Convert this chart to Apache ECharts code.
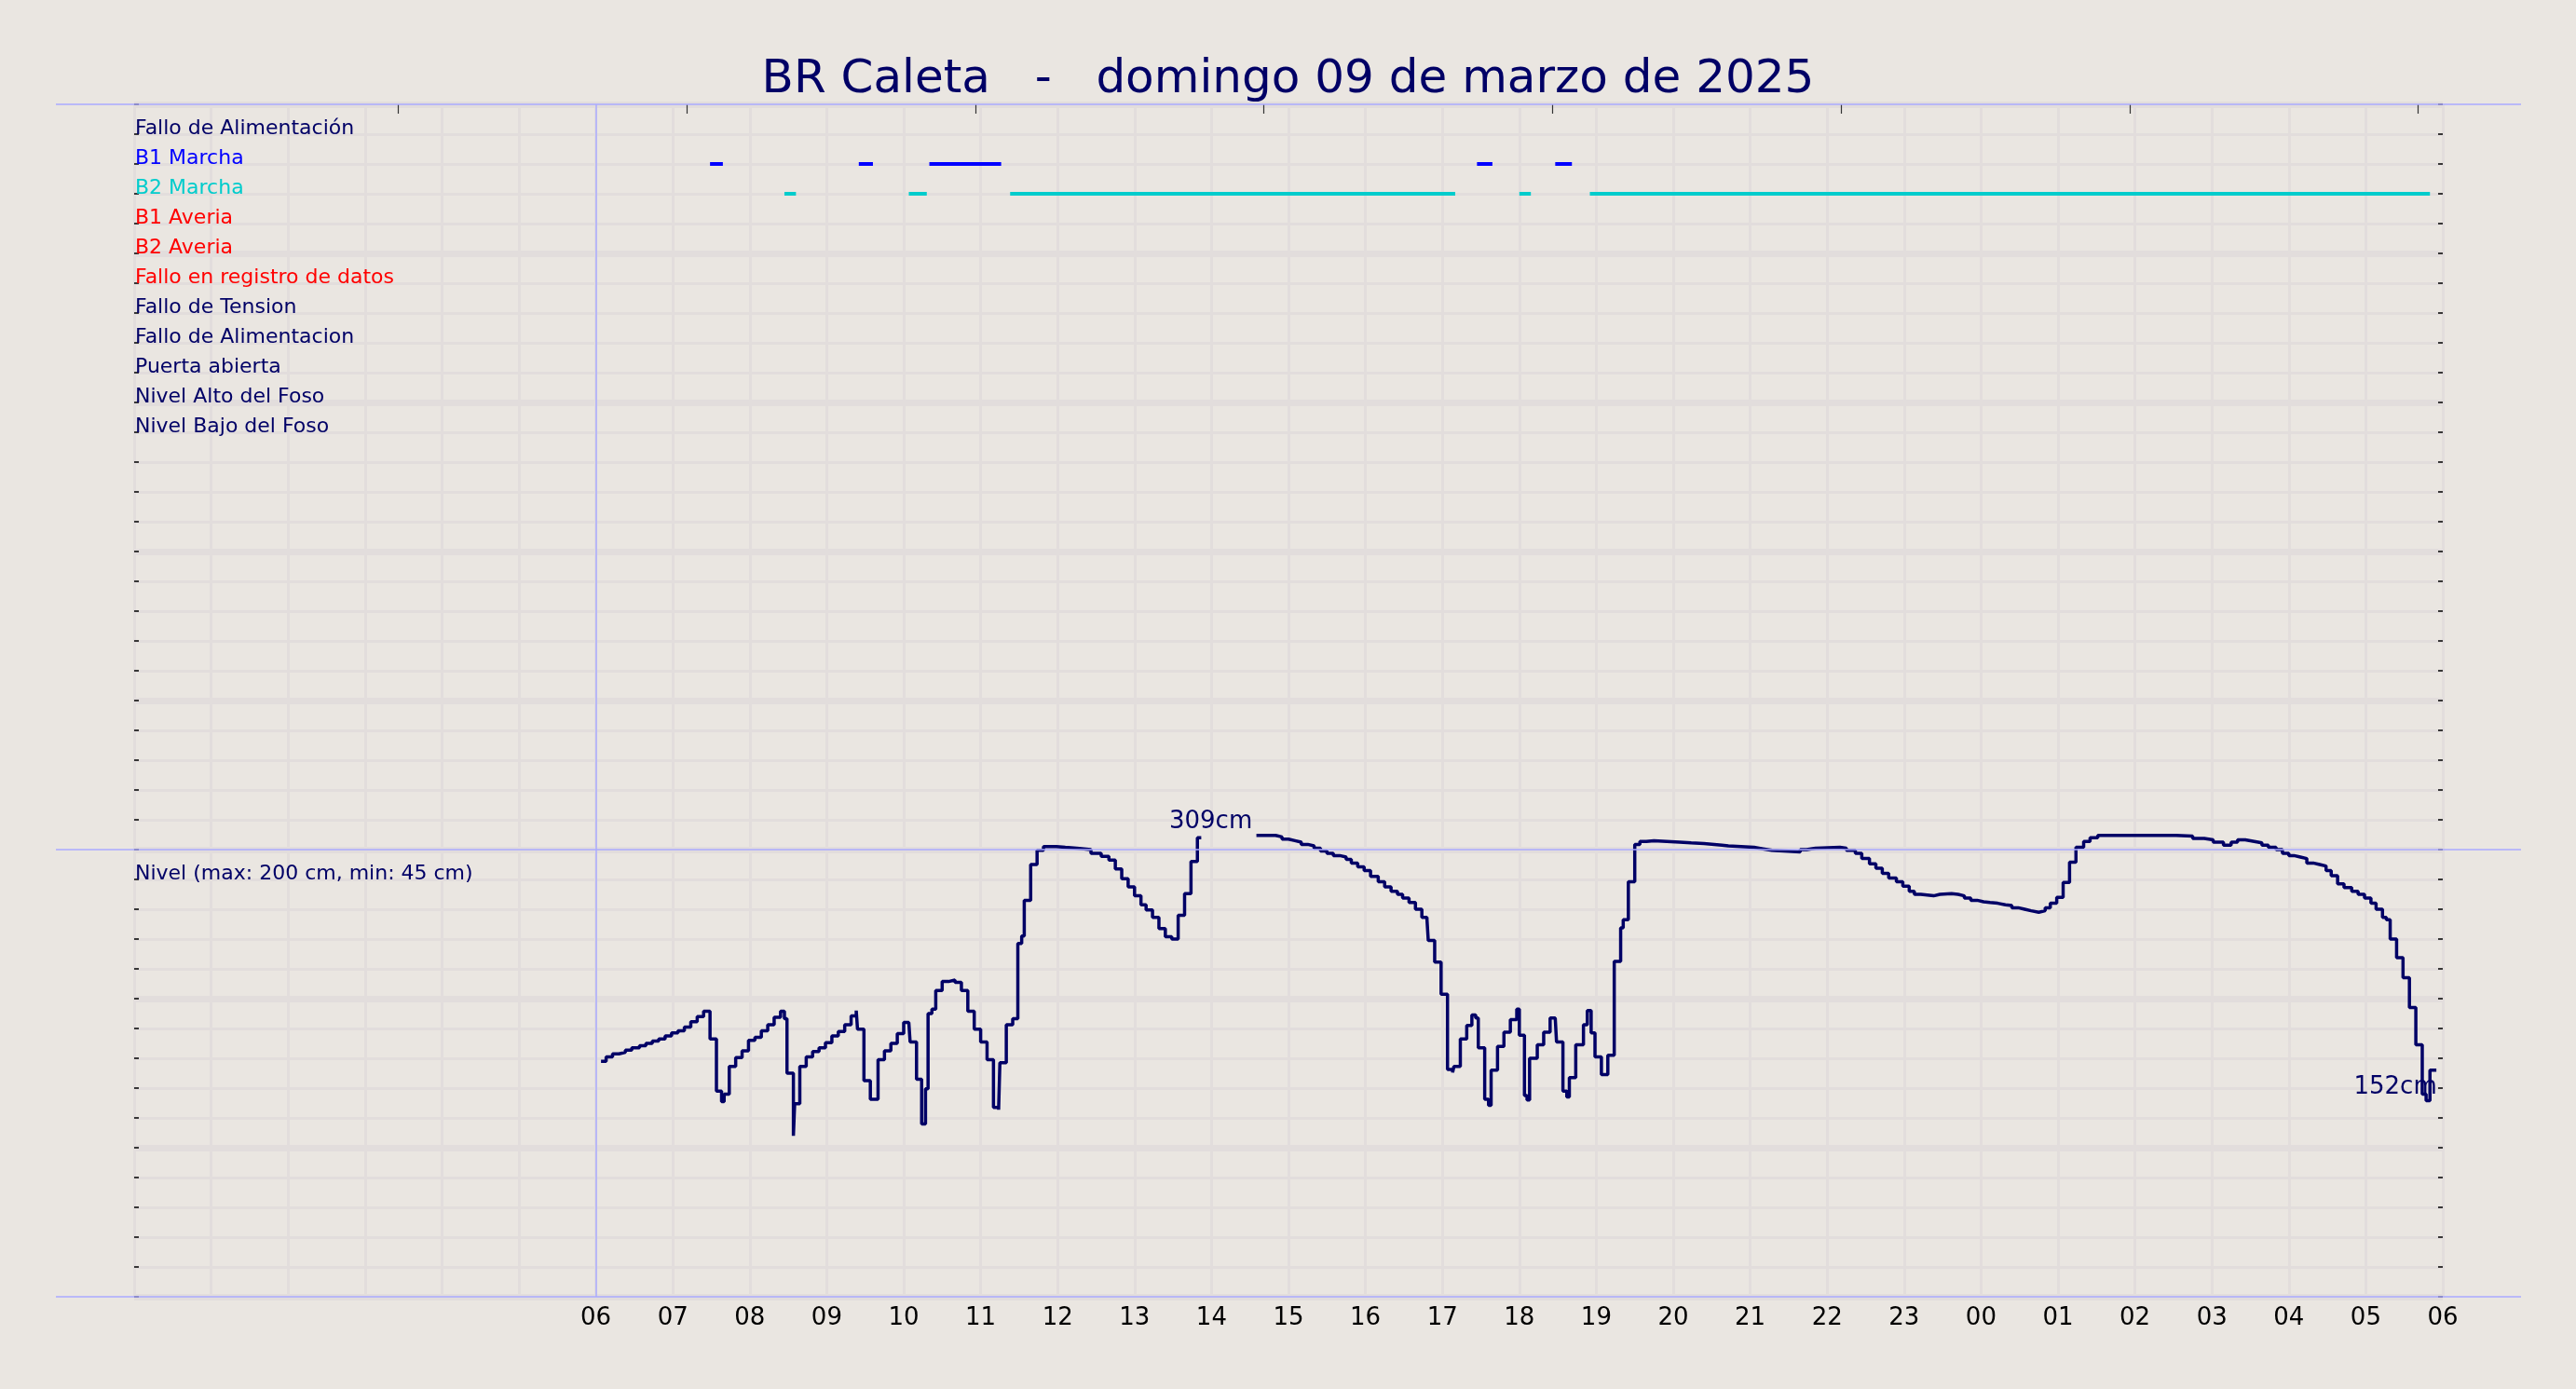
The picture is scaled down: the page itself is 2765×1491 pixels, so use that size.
<!DOCTYPE html>
<html>
<head>
<meta charset="utf-8">
<script src="https://cdn.jsdelivr.net/npm/echarts@6/dist/echarts.min.js"></script>
<style>
html,body{margin:0;padding:0;background:#EAE6E1;}
#chart{width:2765px;height:1491px;}
</style>
</head>
<body>
<div id="chart"></div>
<script>
// ---------------- DATA ----------------
const titleText = 'BR Caleta   -   domingo 09 de marzo de 2025';

// bottom axis tick labels (hours 06 .. 06 next day)
const xTickLabels = ['06','07','08','09','10','11','12','13','14','15','16','17','18','19','20','21','22','23','00','01','02','03','04','05','06'];

// small ticks on the top edge (hours)
const topTickHours = [3.43, 7.18, 10.93, 14.68, 18.43, 22.18, 25.93, 29.68];

// status rows
const statusNames = ['Fallo de Alimentación','B1 Marcha','B2 Marcha','B1 Averia','B2 Averia','Fallo en registro de datos','Fallo de Tension','Fallo de Alimentacion','Puerta abierta','Nivel Alto del Foso','Nivel Bajo del Foso'];
const statusColors = ['#000066','#0000FF','#00CCCC','#FF0000','#FF0000','#FF0000','#000066','#000066','#000066','#000066','#000066'];

const levelTitle = 'Nivel (max: 200 cm, min: 45 cm)';

// run periods
const b1Runs = [['07:29','07:39'],['09:25','09:36'],['10:20','11:16'],['17:27','17:39'],['18:28','18:41']];
const b2Runs = [['08:27','08:36'],['10:04','10:18'],['11:23','17:10'],['18:00','18:09'],['18:55','05:50']];

// level (cm), step line
const levelTime = ['06:04','06:08','06:13','06:18','06:23','06:28','06:34','06:39','06:44','06:49','06:54','06:59','07:04','07:09','07:14','07:19','07:24','07:29','07:34','07:38','07:40','07:44','07:49','07:54','07:59','08:04','08:09','08:14','08:19','08:24','08:27','08:29','08:34','08:35','08:39','08:44','08:49','08:54','08:59','09:04','09:09','09:14','09:19','09:23','09:24','09:29','09:34','09:40','09:45','09:50','09:55','10:00','10:04','10:05','10:10','10:14','10:17','10:19','10:22','10:25','10:30','10:35','10:40','10:45','10:50','10:55','11:00','11:05','11:10','11:14','11:15','11:20','11:25','11:29','11:32','11:34','11:39','11:44','11:49','11:59','12:06','12:15','12:26','12:34','12:40','12:45','12:50','12:55','13:00','13:05','13:09','13:14','13:19','13:24','13:29','13:34','13:39','13:44','13:49','13:52','14:35','14:50','14:55','15:00','15:05','15:10','15:15','15:20','15:25','15:30','15:35','15:40','15:45','15:49','15:54','15:59','16:04','16:10','16:15','16:20','16:25','16:29','16:34','16:39','16:44','16:48','16:49','16:54','16:59','17:04','17:08','17:09','17:14','17:19','17:23','17:26','17:28','17:33','17:36','17:38','17:43','17:48','17:53','17:58','18:00','18:04','18:06','18:08','18:14','18:19','18:24','18:28','18:29','18:34','18:37','18:39','18:44','18:50','18:53','18:56','18:59','19:04','19:09','19:14','19:19','19:21','19:25','19:30','19:34','19:39','19:45','19:55','20:05','20:14','20:24','20:38','20:43','21:03','21:10','21:17','21:39','21:44','21:51','22:10','22:15','22:22','22:27','22:33','22:38','22:43','22:48','22:54','22:59','23:04','23:08','23:13','23:23','23:28','23:37','23:42','23:47','23:52','23:57','00:02','00:07','00:13','00:19','00:24','00:29','00:34','00:39','00:45','00:50','00:54','00:59','01:04','01:09','01:14','01:20','01:25','01:31','02:32','02:45','02:54','03:01','03:09','03:15','03:20','03:26','03:33','03:39','03:44','03:50','03:55','04:00','04:04','04:09','04:14','04:19','04:24','04:29','04:33','04:38','04:43','04:49','04:54','04:59','05:04','05:08','05:13','05:16','05:19','05:24','05:29','05:34','05:39','05:44','05:47','05:50','05:55'];
const levelCm = [158,161,163,164,165.5,167,168.5,170,171.5,173,175,177,178.5,181,184.5,188,191.5,173,138,131,136,154.5,160.5,165,172,174,178.5,182.5,187.5,191.5,186.5,150,108,129.5,154.5,161,164.5,167,170.5,175,178,182.5,188.5,192,179.5,145,132.5,159,165,170,176.5,184,185,171,146,116,139.5,190,193,205.5,211.5,212.5,211,205.5,191.5,179.5,171,159,127,125.5,157,182.5,186.5,237,242,266,290,299.5,302,301.5,301,300,297.5,295.5,293,287,280.5,275,269,263,259.5,254.5,247,241.5,240,256,270.5,292,308,null,309.5,308.5,307,306,305,303.5,302.5,301,299,297.5,296,295,293.5,291,288.5,286,282,278.5,275,272,270,267.5,264.5,260,254.5,253,239,224.5,203,152.5,150.5,154.5,173,182,189,187,167,132.5,128.5,152,168,177.5,186,193,175.5,135,132,160,169,177.5,187,186,171,138,134,147,169,182.5,192,177,161,149,162,225,247.5,253,278.5,303.5,305.5,306,305.5,305,304.5,304,303,302.5,301.5,300.5,299.5,298.5,300,301,301.5,301,299.5,297.5,294,290.5,287.5,284,281,278.5,275.5,272,270,269,270,270.5,270,269,267.5,266,265,264.5,264,263,262.5,261,260,259,258,259,261,264,268,278,291.5,301.5,305.5,308,309.5,309,307.5,306.5,305,303,305,306.5,305.5,304.5,303,301.5,300,297.5,296,295,294,291,290,289,286,282.5,277,274.5,272,270,267.5,264,260,254.5,253,240,227.5,214,194,169,136,131.5,152,152];

// ---------------- HELPERS ----------------
function toHour(t){
  const p = t.split(':');
  let h = (+p[0]) + (+p[1]) / 60;
  if (h < 6) h += 24;
  return h;
}
const ROW_TOP = 780, ROW_STEP = 20;
const rowValue = i => ROW_TOP - ROW_STEP * i;

function runsToData(runs, row){
  const d = [];
  runs.forEach(r => {
    d.push([toHour(r[0]), row]);
    d.push([toHour(r[1]), row]);
    d.push([toHour(r[1]), null]);
  });
  return d;
}

const levelData = levelTime.map((t, i) => [toHour(t), levelCm[i]]);
let maxIdx = 0;
levelCm.forEach((v, i) => { if (v !== null && v > levelCm[maxIdx]) maxIdx = i; });
const lastIdx = levelCm.length - 1;

const labelData = statusNames.map((n, i) => ({
  value: [0, rowValue(i)], name: n, label: {color: statusColors[i]}
}));
labelData.push({value: [0, 280], name: levelTitle, label: {color: '#000066'}});

const GRID_COLOR = '#E2DDDC';
const FONT = 'DejaVu Sans';

// ---------------- CHART ----------------
const chart = echarts.init(document.getElementById('chart'), null, {renderer: 'canvas'});
chart.setOption({
  animation: false,
  backgroundColor: '#EAE6E1',
  textStyle: {fontFamily: FONT},
  title: {
    text: titleText,
    left: 'center',
    top: 56,
    textStyle: {fontSize: 50, fontWeight: 'normal', color: '#000066', fontFamily: FONT, lineHeight: 50}
  },
  grid: [
    {left: 144, right: 143, top: 112, bottom: 99},
    {left: 60, right: 59, top: 112, bottom: 99}
  ],
  xAxis: [
    {
      gridIndex: 0, type: 'value', position: 'bottom', min: 0, max: 30, interval: 1,
      axisLine: {show: false, onZero: false}, axisTick: {show: false},
      axisLabel: {
        show: true, fontSize: 26, color: '#000', margin: 10, fontFamily: FONT, lineHeight: 26,
        formatter: v => (v >= 6 ? xTickLabels[v - 6] : '')
      },
      splitLine: {show: true, lineStyle: {color: GRID_COLOR, width: 3}}
    },
    {
      gridIndex: 0, type: 'value', position: 'top', min: 0, max: 30,
      axisLine: {show: false, onZero: false}, axisLabel: {show: false}, splitLine: {show: false},
      axisTick: {show: true, inside: true, length: 10, customValues: topTickHours, lineStyle: {color: '#333', width: 1.2}}
    },
    {gridIndex: 1, type: 'value', min: 0, max: 1, show: false}
  ],
  yAxis: [
    {
      gridIndex: 0, type: 'value', position: 'left', min: 0, max: 800, interval: 20,
      axisLine: {show: false, onZero: false}, axisLabel: {show: false},
      axisTick: {show: true, inside: true, length: 5, lineStyle: {color: '#000', width: 1.5}},
      splitLine: {show: true, lineStyle: {color: GRID_COLOR, width: 3}}
    },
    {
      gridIndex: 0, type: 'value', position: 'right', min: 0, max: 800, interval: 20,
      axisLine: {show: false, onZero: false}, axisLabel: {show: false},
      axisTick: {show: true, inside: true, length: 5, lineStyle: {color: '#000', width: 1.5}},
      splitLine: {show: false}
    },
    {
      gridIndex: 0, type: 'value', position: 'left', min: 0, max: 800, interval: 100,
      axisLine: {show: false, onZero: false}, axisLabel: {show: false}, axisTick: {show: false},
      splitLine: {show: true, lineStyle: {color: GRID_COLOR, width: 7}}
    },
    {gridIndex: 1, type: 'value', min: 0, max: 800, show: false}
  ],
  series: [
    {
      name: 'decor', type: 'line', xAxisIndex: 2, yAxisIndex: 3, data: [], silent: true,
      markLine: {
        silent: true, symbol: ['none', 'none'], label: {show: false},
        lineStyle: {color: '#AAAAFF', width: 1.5, type: 'solid'},
        data: [{yAxis: 0}, {yAxis: 300}, {yAxis: 800}]
      }
    },
    {
      name: 'B2 Marcha', type: 'line', xAxisIndex: 0, yAxisIndex: 0,
      data: runsToData(b2Runs, rowValue(2)), symbol: 'none', connectNulls: false,
      lineStyle: {color: '#00CCCC', width: 4}, silent: true
    },
    {
      name: 'B1 Marcha', type: 'line', xAxisIndex: 0, yAxisIndex: 0,
      data: runsToData(b1Runs, rowValue(1)), symbol: 'none', connectNulls: false,
      lineStyle: {color: '#0000FF', width: 4}, silent: true
    },
    {
      name: 'Nivel', type: 'line', xAxisIndex: 0, yAxisIndex: 0, step: 'end',
      data: levelData, symbol: 'none', connectNulls: false,
      lineStyle: {color: '#000066', width: 3.5}, silent: true,
      markLine: {
        silent: true, symbol: ['none', 'none'], label: {show: false},
        lineStyle: {color: '#AAAAFF', width: 1.5, type: 'solid'},
        data: [{xAxis: 6}]
      },
      markPoint: {
        symbol: 'circle', symbolSize: 0, silent: true,
        label: {
          show: true, position: 'inside', fontSize: 26, color: '#000066', fontFamily: FONT,
          formatter: p => Math.floor(p.value) + 'cm'
        },
        data: [
          {coord: levelData[maxIdx], value: levelCm[maxIdx], label: {offset: [-49, -15]}},
          {coord: levelData[lastIdx], value: levelCm[lastIdx], label: {offset: [-44, 18]}}
        ]
      }
    },
    {
      name: 'labels', type: 'scatter', xAxisIndex: 0, yAxisIndex: 0,
      data: labelData, symbolSize: 0, silent: true,
      itemStyle: {opacity: 1},
      label: {
        show: true, formatter: '{b}', position: [1, -6], align: 'left', verticalAlign: 'middle',
        fontSize: 22, fontFamily: FONT, opacity: 1
      }
    }
  ]
});
</script>
</body>
</html>
